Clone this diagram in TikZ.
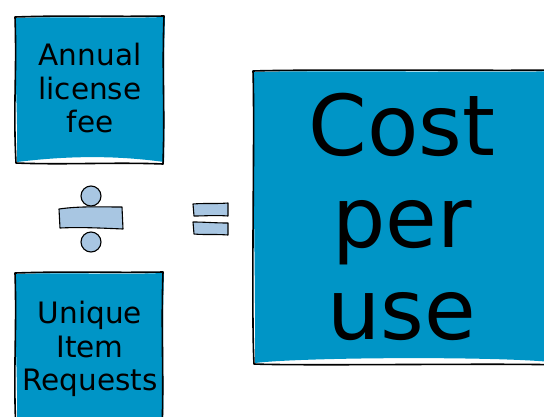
\documentclass[tikz,border=0pt]{standalone}
\usepackage{fontspec}
\setmainfont{DejaVu Sans}
\usetikzlibrary{positioning}
\definecolor{boxblue}{HTML}{0095C6}
\definecolor{signblue}{HTML}{A8C6E2}
\tikzset{
    boxfill/.style = {fill=boxblue},
    boxline/.style = {draw=black, line width=1.6pt, line join=round},
    sign/.style = {fill=signblue, draw=black, line width=1.1pt, line join=round},
    smalltext/.style = {align=center, inner sep=0pt, font=\fontsize{29.5}{33.5}\selectfont},
    bigtext/.style = {align=center, inner sep=0pt, font=\fontsize{84}{92}\selectfont}
}
% hand drawn box: x1, y1, x2, y2
\newcommand{\sketchbox}[4]{%
  \fill[boxfill] (#1+1,#2+2) .. controls (#1+60,#2) and (#3-60,#2+3) .. (#3+1,#2+1)
    .. controls (#3-1,#2+60) and (#3+1,#4-60) .. (#3,#4-2)
    .. controls (#3-50,#4-9) and (#1+50,#4-8) .. (#1+2,#4-2)
    .. controls (#1+3,#4-60) and (#1-1,#2+60) .. cycle;
  \draw[boxline] (#1,#2+1) .. controls (#1+60,#2-1) and (#3-60,#2+1) .. (#3,#2)
    .. controls (#3-2,#2+60) and (#3+1,#4-60) .. (#3-1,#4)
    .. controls (#3-50,#4-2) and (#1+50,#4+1) .. (#1+1,#4-1)
    .. controls (#1-2,#4-60) and (#1+2,#2+60) .. cycle;
}

\begin{document}
\begin{tikzpicture}[x=1pt,y=-1pt]
\useasboundingbox (0,0) rectangle (544,416);
%
\sketchbox{15}{16}{164}{164}
\sketchbox{15}{272}{163}{432}
\sketchbox{253}{70}{560}{365}
%
\node[smalltext, anchor=north] (fee) at (90,43) {Annual\\license\\fee};
\node[smalltext, anchor=north] (requests) at (90,301) {Unique\\Item\\Requests};
\node[bigtext, anchor=north] (cpu) at (402,93) {Cost\\per\\use};
%
% divide
\draw[sign] (91,196) circle (10pt);
\draw[sign] (91,242) circle (10pt);
\draw[sign] (59,209) .. controls (80,206) and (100,207) .. (122,207) -- (123,229)
    .. controls (100,228) and (80,227) .. (60,228) -- cycle;
% equals
\draw[sign] (193,204) .. controls (205,203) and (215,204) .. (228,203) -- (228,216)
    .. controls (215,215) and (205,216) .. (194,216) -- cycle;
\draw[sign] (193,222) .. controls (205,222) and (215,223) .. (228,223) -- (228,235)
    .. controls (215,234) and (205,235) .. (194,234) -- cycle;
\end{tikzpicture}
\end{document}
